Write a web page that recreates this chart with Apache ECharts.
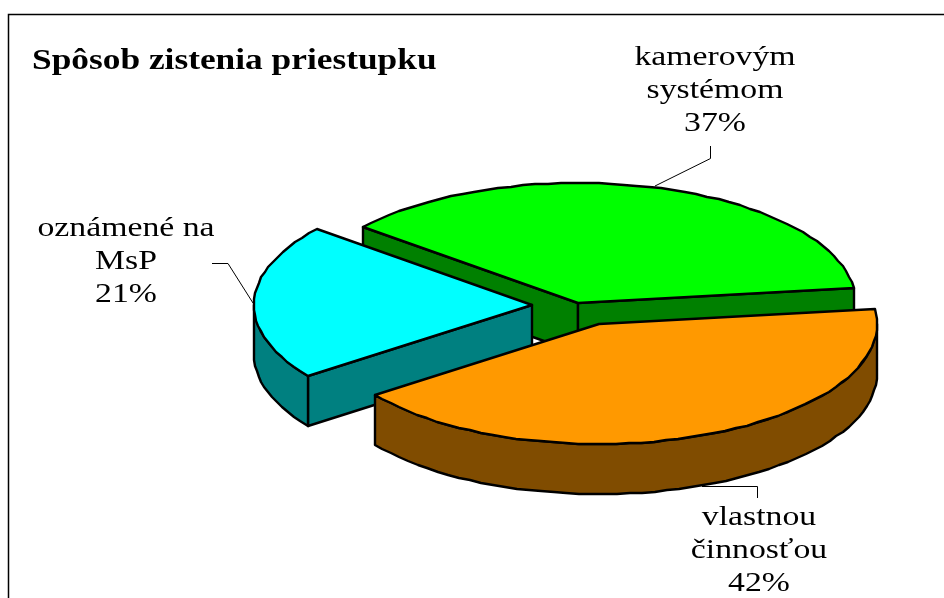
<!DOCTYPE html>
<html><head><meta charset="utf-8">
<style>html,body{margin:0;padding:0;background:#fff}#c{width:944px;height:598px}</style>
<script src="https://cdn.jsdelivr.net/npm/echarts@6/dist/echarts.min.js"></script>
</head><body><div id="c"></div>
<script>
// ---- data ----
const categories = ['kamerovým systémom', 'vlastnou činnosťou', 'oznámené na MsP'];
const values = [37, 42, 21];
const labelLines = [['kamerovým', 'systémom'], ['vlastnou', 'činnosťou'], ['oznámené na', 'MsP']];
const titleText = 'Spôsob zistenia priestupku';
const topColors = ['#00ff00', '#ff9900', '#00ffff'];
const sideColors = ['#008000', '#804c00', '#008080'];

// ---- layout of the flattened pie ----
const RX = 278, RY = 120, DEPTH = 50;
const sliceCenters = [[578, 303], [599, 324], [532, 305]];
const paintOrder = [0, 2, 1];      // front slice goes last
const firstSliceStart = -140.6;    // degrees on the flattened circle, y down
const labelAnchors = [[715, 58], [759, 518], [126, 229]];
const LINE_H = 33, FONT = '"Liberation Serif","Times New Roman",serif';

const total = values.reduce((a, b) => a + b, 0);
const rad = d => d * Math.PI / 180;
function arc(c, a, b, dy) {
  const n = Math.max(1, Math.round(Math.abs(b - a) / 2.6)), out = [];
  for (let i = 0; i <= n; i++) {
    const t = rad(a + (b - a) * i / n);
    out.push([Math.round(c[0] + RX * Math.cos(t)), Math.round(c[1] + RY * Math.sin(t) + (dy || 0))]);
  }
  return out;
}

function renderItem(params, api) {
  const idx = params.dataIndex;
  let start = firstSliceStart;
  for (let i = 0; i < idx; i++) start += values[i] / total * 360;
  const end = start + api.value(0) / total * 360;
  const c = sliceCenters[idx], top = topColors[idx], side = sideColors[idx];
  const layer = paintOrder[idx] * 10;
  let seq = 0;
  const poly = (points, fill) => ({
    type: 'polygon', z2: layer + (seq++), shape: { points },
    style: { fill, stroke: '#000', lineWidth: 2.4, lineJoin: 'round' }
  });
  const children = [];
  const face = t => {
    const p = arc(c, t, t, 0)[0];
    return [[c[0], c[1]], p, [p[0], p[1] + DEPTH], [c[0], c[1] + DEPTH]];
  };
  // cut faces that look towards the viewer
  if (Math.cos(rad(start)) < 0) children.push(poly(face(start), side));
  if (Math.cos(rad(end)) > 0) children.push(poly(face(end), side));
  // outer rim: only the front half of the ellipse is visible
  for (const k of [-360, 0, 360]) {
    const a = Math.max(start, k), b = Math.min(end, k + 180);
    if (b > a) {
      const t = arc(c, a, b, 0), u = arc(c, a, b, DEPTH).reverse();
      children.push(poly(t.concat(u), side));
    }
  }
  children.push(poly([[c[0], c[1]]].concat(arc(c, start, end, 0)), top));
  // label
  const a = labelAnchors[idx];
  const lines = labelLines[idx].concat([api.value(0) + '%']);
  lines.forEach((text, i) => children.push({
    type: 'text', x: a[0], y: a[1] + i * LINE_H, scaleX: 1.25, z2: 100,
    style: { text, fill: '#000', font: '27px ' + FONT, align: 'center', verticalAlign: 'middle' }
  }));
  return { type: 'group', children };
}

const thin = pts => ({ type: 'polyline', shape: { points: pts }, style: { stroke: '#000', lineWidth: 1, fill: null } });
const chart = echarts.init(document.getElementById('c'), null, { renderer: 'canvas' });
chart.setOption({
  backgroundColor: '#fff',
  animation: false,
  graphic: [
    { type: 'rect', shape: { x: 8.5, y: 14.5, width: 960, height: 620 }, style: { fill: 'none', stroke: '#000', lineWidth: 1.5 } },
    { type: 'text', x: 32, y: 61, scaleX: 1.178, style: { text: titleText, fill: '#000', font: 'bold 30px ' + FONT, align: 'left', verticalAlign: 'middle' } },
    thin([[710.5, 146], [710.5, 158.5], [655, 186]]),
    thin([[212, 263.5], [228, 263.5], [253, 303]]),
    thin([[702, 486.5], [757.5, 486.5], [757.5, 498]])
  ],
  series: [{
    type: 'custom',
    coordinateSystem: 'none',
    clip: false,
    silent: true,
    renderItem,
    data: values.map((v, i) => ({ name: categories[i], value: [v] }))
  }]
});
</script></body></html>
